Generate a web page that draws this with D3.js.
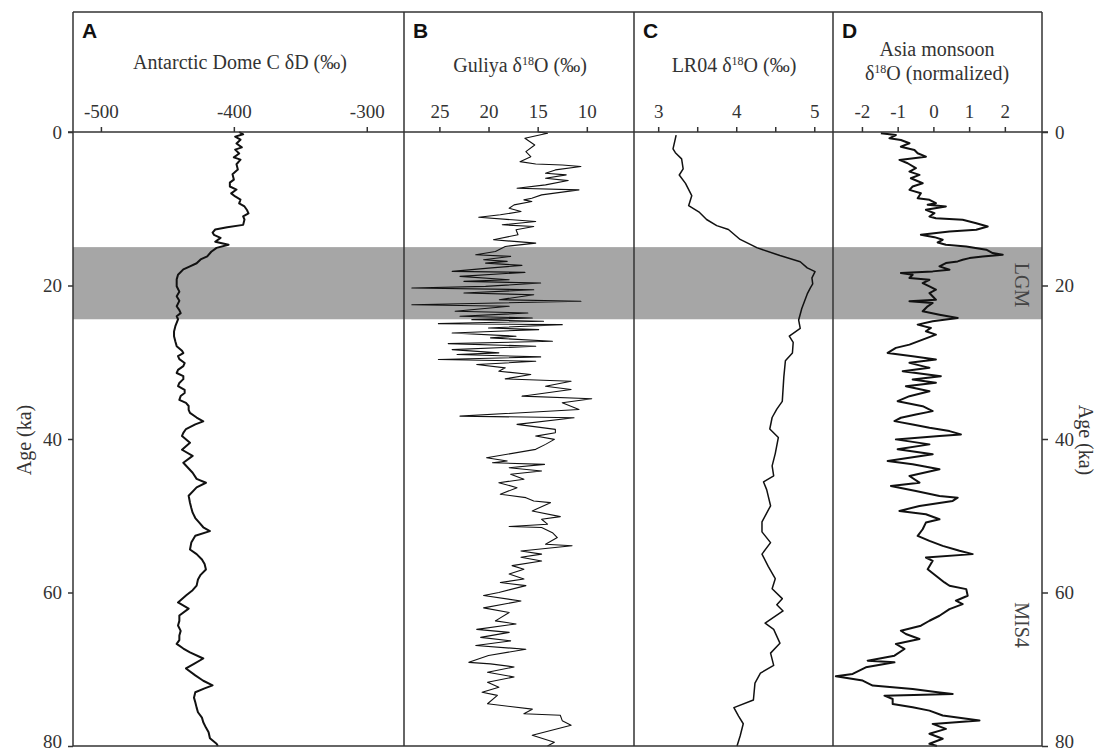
<!DOCTYPE html>
<html>
<head>
<meta charset="utf-8">
<script src="https://cdn.jsdelivr.net/npm/d3@7"></script>
<style>
  body { margin: 0; background: #fff; }
  svg { display: block; }
</style>
</head>
<body>
<div class="chart"></div>
<script>
let width = 1099;
let height = 752;

// age axis (ka)
let ageTicks = [0, 20, 40, 60, 80];
let lgmBand = [15, 24.4];

// A: Antarctic Dome C dD
let domeAge = [0, 0.3, 0.6, 1.0, 1.5, 2.0, 2.3, 2.8, 3.3, 3.6, 4.2, 4.9, 5.5, 6.2, 6.6, 7.1, 7.5, 8.0, 8.4, 8.8,
  9.3, 9.7, 10.2, 10.6, 11.0, 11.4, 12.1, 12.4, 12.7, 13.1, 13.4, 13.8, 14.3, 14.7, 15.1, 15.6, 16.2, 16.6, 17.1, 17.5,
  17.9, 18.6, 19.2, 20.1, 20.8, 21.4, 22.0, 22.7, 23.2, 23.6, 24.0, 24.4, 25.3, 26.0, 26.6, 27.3, 27.9, 28.5, 28.8, 29.2,
  29.6, 30.1, 30.5, 31.0, 31.4, 31.8, 32.2, 32.7, 33.1, 33.6, 34.0, 34.4, 34.9, 35.3, 35.7, 36.2, 36.6, 37.2, 37.7, 38.1,
  38.7, 39.2, 39.6, 40.5, 41.4, 42.2, 43.1, 44.4, 45.2, 45.7, 46.3, 47.4, 48.3, 49.0, 49.6, 50.3, 50.9, 51.5, 52.0, 52.6,
  53.5, 54.4, 55.0, 55.7, 56.3, 57.0, 57.7, 58.3, 59.1, 59.7, 60.4, 61.3, 62.1, 63.0, 63.7, 64.3, 65.0, 65.6, 66.2, 66.7,
  67.3, 67.8, 68.6, 69.3, 69.9, 70.8, 71.5, 72.1, 72.5, 73.0, 73.7, 74.3, 75.0, 75.6, 76.3, 76.9, 77.6, 78.2, 79.0, 79.7, 80.0];
let domeD = [-396, -393, -399, -395, -398, -394, -399, -396, -400, -395, -398, -397, -401, -400, -403, -403, -398, -402, -399, -395,
  -396, -392, -390, -389, -393, -392, -393, -405, -414, -416, -415, -410, -414, -404, -413, -417, -420, -425, -428, -433,
  -438, -442, -443, -443, -441, -443, -441, -443, -441, -440, -443, -442, -444, -445, -445, -444, -443, -439, -438, -442,
  -441, -437, -438, -442, -443, -438, -438, -441, -442, -437, -437, -440, -441, -436, -434, -434, -433, -428, -423, -429,
  -436, -438, -439, -433, -439, -431, -438, -431, -428, -421, -428, -434, -433, -432, -431, -429, -426, -423, -418, -429,
  -432, -433, -428, -424, -422, -421, -425, -427, -428, -431, -436, -442, -434, -441, -441, -442, -440, -441, -441, -443,
  -438, -433, -423, -430, -436, -429, -423, -416, -422, -429, -430, -429, -428, -427, -424, -423, -421, -419, -418, -413, -412];
let domeTicks = [-500, -400, -300];

// B: Guliya d18O
let guliyaAge = [0.0, 0.17, 0.82, 1.69, 2.56, 3.21, 3.86, 4.16, 4.3, 4.5, 4.94, 5.37, 5.59, 6.03, 6.33, 6.89, 7.33, 7.54, 8.19, 8.63,
  8.84, 9.06, 9.49, 9.93, 10.36, 10.79, 11.1, 11.44, 11.66, 12.09, 12.31, 12.74, 13.39, 14.04, 14.48, 14.91, 15.56, 16.0, 16.21, 16.64,
  16.86, 17.08, 17.38, 17.73, 18.16, 18.29, 18.81, 19.25, 19.46, 19.68, 20.11, 20.33, 20.55, 20.98, 21.2, 21.85, 22.06, 22.5, 22.71, 23.36,
  23.58, 24.01, 24.23, 24.45, 24.66, 24.97, 25.1, 25.53, 25.75, 26.18, 26.61, 26.83, 27.26, 27.57, 27.91, 28.35, 28.78, 29.0, 29.3, 29.65,
  29.87, 30.3, 30.73, 31.17, 31.6, 32.16, 32.47, 33.12, 33.55, 34.42, 34.76, 35.28, 36.15, 37.02, 37.23, 38.1, 38.75, 39.19, 39.62, 40.05,
  40.7, 41.35, 42.44, 42.87, 43.1, 43.3, 43.74, 44.17, 44.6, 45.25, 45.69, 46.34, 47.2, 47.64, 48.07, 48.29, 49.37, 50.11, 50.46, 51.1,
  51.4, 51.53, 52.2, 52.84, 53.71, 53.9, 54.6, 55.0, 55.4, 55.9, 56.5, 56.96, 57.6, 58.25, 58.7, 59.1, 60.0, 60.4, 61.1, 62.0,
  62.6, 63.7, 64.1, 64.8, 65.2, 65.85, 66.3, 66.9, 67.4, 68.2, 69.1, 69.3, 69.7, 70.4, 71.0, 71.7, 72.35, 73.0, 73.4, 74.5,
  75.2, 75.8, 76.0, 76.7, 77.3, 78.6, 79.5, 80.0];
let guliyaO = [15.0, 14.0, 16.3, 15.3, 16.2, 15.7, 16.8, 15.2, 12.5, 10.6, 13.2, 14.2, 12.1, 14.2, 11.9, 14.2, 17.1, 10.8, 14.6, 15.6,
  16.4, 15.6, 17.4, 17.9, 16.7, 18.8, 21.0, 17.6, 15.2, 18.6, 15.4, 17.2, 17.0, 19.5, 15.2, 18.3, 19.3, 21.3, 17.75, 20.5,
  18.1, 20.3, 16.6, 20.0, 23.7, 16.3, 22.9, 17.9, 22.5, 14.7, 20.3, 27.8, 15.4, 22.5, 15.4, 18.9, 10.6, 27.8, 17.9, 23.4,
  16.0, 22.9, 15.55, 21.7, 14.4, 25.1, 12.5, 20.0, 14.9, 23.7, 17.2, 19.8, 13.5, 24.1, 15.2, 23.7, 18.95, 23.2, 14.7, 25.1,
  15.2, 21.2, 18.3, 18.95, 15.7, 18.3, 11.6, 14.2, 11.6, 16.6, 9.5, 12.5, 10.8, 22.9, 11.3, 17.1, 13.2, 13.2, 15.2, 13.3,
  14.2, 15.2, 20.2, 18.1, 19.6, 14.3, 17.9, 14.6, 17.75, 16.4, 18.95, 17.1, 18.8, 16.2, 15.4, 13.7, 15.55, 12.7, 14.6, 14.0,
  17.9, 14.6, 13.5, 13.0, 14.2, 11.5, 16.7, 14.6, 16.7, 14.6, 17.6, 16.4, 17.9, 16.4, 18.8, 16.2, 18.95, 20.5, 16.7, 20.5,
  17.9, 19.3, 17.2, 21.2, 17.9, 20.8, 17.75, 21.3, 16.2, 20.0, 22.0, 19.8, 17.4, 20.1, 17.4, 20.1, 18.95, 20.65, 19.1, 20.1,
  15.55, 16.4, 12.7, 12.5, 11.6, 15.55, 13.3, 14.0];
let guliyaTicks = [25, 20, 15, 10];

// C: LR04 benthic d18O
let lr04Age = [0.4, 2.2, 2.7, 3.5, 4.8, 5.6, 6.7, 8.3, 9.6, 10.4, 11.4, 12.2, 12.7, 14.0, 15.1, 16.1, 16.9, 17.7, 18.2, 19.0,
  19.8, 20.3, 21.1, 23.0, 24.5, 25.6, 26.6, 27.4, 28.8, 29.8, 31.9, 35.1, 36.1, 37.2, 38.7, 39.8, 41.9, 43.5, 44.8, 45.6,
  46.6, 48.7, 50.8, 52.1, 53.5, 55.0, 56.6, 58.2, 59.5, 60.8, 61.6, 62.4, 64.0, 64.8, 66.6, 67.9, 69.5, 70.5, 71.8, 74.0,
  75.0, 76.1, 77.1, 78.7, 80.0];
let lr04O = [3.23, 3.19, 3.22, 3.30, 3.32, 3.27, 3.35, 3.43, 3.39, 3.52, 3.62, 3.75, 3.90, 4.05, 4.27, 4.56, 4.82, 4.91, 5.01, 4.97,
  4.98, 4.95, 4.91, 4.84, 4.80, 4.82, 4.68, 4.73, 4.72, 4.63, 4.61, 4.59, 4.52, 4.46, 4.43, 4.54, 4.50, 4.46, 4.48, 4.35,
  4.39, 4.44, 4.33, 4.33, 4.44, 4.33, 4.41, 4.50, 4.46, 4.59, 4.52, 4.60, 4.37, 4.48, 4.56, 4.44, 4.48, 4.31, 4.24, 4.22,
  3.97, 4.03, 4.09, 4.05, 4.01];
let lr04Ticks = [3, 3.5, 4, 4.5, 5];
let lr04Labels = [3, 4, 5];

// D: Asian monsoon speleothem d18O (normalized)
let monsoonAge = [0.17, 0.39, 0.82, 1.04, 1.47, 1.91, 2.34, 2.77, 3.21, 3.64, 4.07, 4.72, 5.16, 5.59, 6.03, 6.68, 7.11, 7.54, 7.98, 8.63,
  8.84, 9.28, 9.49, 9.71, 10.14, 10.58, 11.01, 11.23, 11.44, 11.88, 12.31, 12.74, 12.96, 13.39, 13.7, 14.04, 14.39, 14.69, 14.91, 15.34,
  15.78, 15.99, 16.21, 16.43, 16.65, 16.86, 17.08, 17.51, 17.95, 18.16, 18.38, 18.6, 19.03, 19.25, 19.68, 20.11, 20.55, 20.98, 21.85, 22.06,
  22.28, 22.71, 23.36, 23.8, 24.23, 24.66, 25.1, 25.53, 25.96, 26.4, 27.05, 27.7, 28.13, 28.78, 29.22, 29.65, 30.08, 30.73, 31.17, 31.82,
  32.25, 32.68, 33.12, 33.77, 34.42, 35.07, 35.72, 36.37, 36.8, 37.23, 37.67, 38.1, 38.54, 38.97, 39.4, 39.62, 40.05, 40.7, 41.35, 42.0,
  42.87, 43.3, 43.95, 44.82, 45.69, 46.12, 46.77, 47.42, 47.64, 48.07, 48.72, 49.37, 49.8, 50.46, 50.89, 51.76, 52.62, 53.27, 53.92, 54.57,
  55.0, 55.44, 55.87, 56.96, 57.82, 58.69, 59.12, 59.56, 60.42, 61.07, 61.51, 62.16, 63.03, 63.68, 64.33, 64.98, 65.41, 66.06, 66.71, 67.36,
  68.23, 68.88, 69.1, 69.75, 70.61, 70.92, 71.48, 72.13, 72.57, 73.0, 73.22, 73.44, 73.87, 74.52, 74.95, 75.39, 76.03, 76.68, 77.12, 77.77,
  78.41, 79.06, 79.71, 80.0];
let monsoonO = [-1.47, -1.05, -1.23, -0.91, -0.67, -0.91, -0.53, -0.44, -0.21, -0.95, -0.72, -0.49, -0.67, -0.39, -0.63, -0.30, -0.58, -0.67, -0.35, -0.44,
  -0.11, 0.07, -0.16, 0.35, -0.21, 0.03, -0.11, 0.07, 0.82, 1.20, 1.52, 1.20, 0.45, -0.35, 0.03, 0.26, 0.12, 0.35, 0.92, 1.48,
  1.66, 1.94, 1.38, 1.01, 0.82, 0.68, 0.35, 0.17, 0.45, -0.02, -0.91, -0.58, -0.67, -0.11, -0.30, -0.11, 0.07, -0.11, 0.07, -0.67,
  -0.02, -0.16, -0.30, 0.17, 0.68, -0.02, -0.44, -0.07, -0.21, 0.07, -0.30, -0.67, -1.05, -1.28, -0.58, 0.07, -0.67, -0.11, -0.86, 0.21,
  -0.58, 0.07, -0.77, -0.11, -0.67, -1.00, -0.30, -0.02, -0.49, -0.91, -1.09, -0.58, -0.11, 0.45, 0.77, 0.17, -1.05, -0.11, -1.00, -0.02,
  -1.28, -0.58, 0.17, -0.67, -0.39, -1.19, -0.49, 0.17, 0.68, 0.54, -0.39, -0.95, -0.21, 0.17, -0.21, -0.30, -0.44, -0.11, 0.26, 0.73,
  1.10, -0.21, -0.02, -0.16, 0.07, 0.31, 0.45, 0.92, 0.96, 0.63, 0.82, 0.45, 0.17, -0.11, -0.35, -0.91, -0.77, -0.39, -1.05, -0.81,
  -1.09, -1.84, -1.09, -1.89, -2.26, -2.73, -1.98, -1.70, -0.58, 0.12, 0.54, -1.37, -1.14, -1.14, -0.58, -0.11, 0.26, 1.29, -0.02, 0.35,
  -0.11, 0.26, -0.11, 0.10];
let monsoonTicks = [-2, -1, 0, 1, 2];

let frameTop = 12, axisY = 132, frameBottom = 746;
let xEdges = [73, 404, 634, 833, 1042];
let ink = '#333';
let serif = '"Liberation Serif", "Times New Roman", serif';

let svg = d3.select('.chart')
  .append('svg')
  .attr('width', width)
  .attr('height', height);

let yScale = d3.scaleLinear().domain([0, 80]).range([axisY, frameBottom]);

let panels = [
  { letter: 'A', ages: domeAge, vals: domeD, domain: [-521, -272], ticks: domeTicks, labels: domeTicks, width: 2 },
  { letter: 'B', ages: guliyaAge, vals: guliyaO, domain: [28.6, 5.2], ticks: guliyaTicks, labels: guliyaTicks, width: 1.1 },
  { letter: 'C', ages: lr04Age, vals: lr04O, domain: [2.69, 5.24], ticks: lr04Ticks, labels: lr04Labels, width: 1.5 },
  { letter: 'D', ages: monsoonAge, vals: monsoonO, domain: [-2.81, 3.04], ticks: monsoonTicks, labels: monsoonTicks, width: 2 }
];

function styleAxis(g) {
  g.select('.domain').remove();
  g.attr('font-family', serif).attr('font-size', 19);
  g.selectAll('line').attr('stroke', ink).attr('stroke-width', 1.5);
  g.selectAll('text')
    .attr('fill', ink)
    .attr('font-family', serif)
    .style('font-family', serif)
    .style('font-size', '19px');
}

// LGM shading
svg.append('rect')
  .attr('x', xEdges[0])
  .attr('y', yScale(lgmBand[0]))
  .attr('width', xEdges[4] - xEdges[0])
  .attr('height', yScale(lgmBand[1]) - yScale(lgmBand[0]))
  .attr('fill', '#a6a6a6');

panels.forEach((p, i) => {
  let xScale = d3.scaleLinear().domain(p.domain).range([xEdges[i], xEdges[i + 1]]);
  let pts = p.ages.map((a, k) => [xScale(p.vals[k]), yScale(a)]);
  svg.append('path')
    .attr('d', d3.line()(pts))
    .attr('fill', 'none')
    .attr('stroke', '#111')
    .attr('stroke-width', p.width)
    .attr('stroke-linejoin', 'round');

  let xAxis = d3.axisTop(xScale)
    .tickValues(p.ticks)
    .tickSize(5)
    .tickPadding(9)
    .tickFormat(d => p.labels.includes(d) ? String(d) : '');
  let g = svg.append('g')
    .attr('transform', 'translate(0,' + axisY + ')')
    .call(xAxis);
  styleAxis(g);

  svg.append('text')
    .attr('x', xEdges[i] + 9)
    .attr('y', 38)
    .style('font-family', '"Liberation Sans", Arial, sans-serif')
    .style('font-weight', 'bold')
    .style('font-size', '21px')
    .attr('fill', '#111')
    .text(p.letter);
});

// panel titles; '18' is drawn as a superscript
function title(x, y, parts) {
  let t = svg.append('text')
    .attr('x', x)
    .attr('y', y)
    .attr('text-anchor', 'middle')
    .attr('fill', ink)
    .style('font-family', serif)
    .style('font-size', '20px');
  let raised = false;
  parts.forEach(s => {
    let sp = t.append('tspan').text(s);
    if (s === '18') {
      sp.attr('dy', -7).style('font-size', '12px');
      raised = true;
    } else if (raised) {
      sp.attr('dy', 7);
      raised = false;
    }
  });
}
title(240, 69, ['Antarctic Dome C δD (‰)']);
title(520, 72, ['Guliya δ', '18', 'O (‰)']);
title(734, 72, ['LR04 δ', '18', 'O (‰)']);
title(937, 56, ['Asia monsoon']);
title(937, 80, ['δ', '18', 'O (normalized)']);

// frame and axis line
svg.append('line')
  .attr('x1', xEdges[0] - 5).attr('x2', xEdges[4] + 6)
  .attr('y1', axisY).attr('y2', axisY)
  .attr('stroke', ink).attr('stroke-width', 1.5);
[frameTop, frameBottom].forEach(y => {
  svg.append('line')
    .attr('x1', xEdges[0]).attr('x2', xEdges[4])
    .attr('y1', y).attr('y2', y)
    .attr('stroke', ink).attr('stroke-width', 1.5);
});
xEdges.forEach(x => {
  svg.append('line')
    .attr('x1', x).attr('x2', x)
    .attr('y1', frameTop).attr('y2', frameBottom)
    .attr('stroke', ink).attr('stroke-width', 1.5);
});

// age axes
let leftAxis = d3.axisLeft(yScale).tickValues(ageTicks).tickSize(5).tickPadding(6);
let gl = svg.append('g').attr('transform', 'translate(' + xEdges[0] + ',0)').call(leftAxis);
let rightAxis = d3.axisRight(yScale).tickValues(ageTicks).tickSize(6).tickPadding(7);
let gr = svg.append('g').attr('transform', 'translate(' + xEdges[4] + ',0)').call(rightAxis);
styleAxis(gl);
styleAxis(gr);
// keep the bottom labels inside the page
[gl, gr].forEach(g => g.selectAll('.tick text').filter(d => d === 80).attr('dy', '0.1em'));

svg.append('text')
  .attr('transform', 'translate(31,440) rotate(-90)')
  .attr('text-anchor', 'middle')
  .attr('fill', ink)
  .style('font-family', serif)
  .style('font-size', '20px')
  .text('Age (ka)');
svg.append('text')
  .attr('transform', 'translate(1079,440) rotate(90)')
  .attr('text-anchor', 'middle')
  .attr('fill', ink)
  .style('font-family', serif)
  .style('font-size', '20px')
  .text('Age (ka)');

// period labels
[['LGM', 285], ['MIS4', 625]].forEach(d => {
  svg.append('text')
    .attr('transform', 'translate(1015,' + d[1] + ') rotate(90)')
    .attr('text-anchor', 'middle')
    .attr('fill', '#444')
    .style('font-family', serif)
    .style('font-size', '20px')
    .text(d[0]);
});
</script>
</body>
</html>
